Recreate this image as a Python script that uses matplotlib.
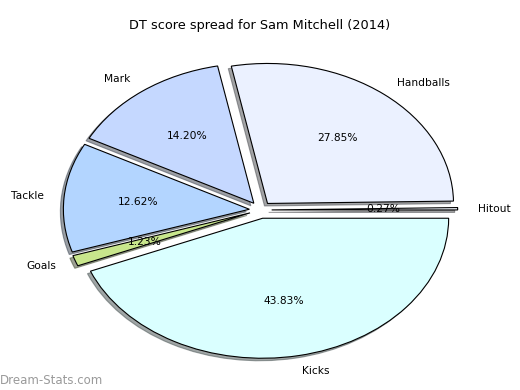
import matplotlib
matplotlib.use("Agg")
import matplotlib.pyplot as plt
from matplotlib.patches import Wedge
import numpy as np

# Data (counter-clockwise from 0 degrees)
categories = ["Hitout", "Handballs", "Mark", "Tackle", "Goals", "Kicks"]
values = [0.27, 27.85, 14.20, 12.62, 1.23, 43.83]
colors = ["#f4f8ff", "#ebf1ff", "#c5d8ff", "#b3d5ff", "#c8e68c", "#daffff"]
title = "DT score spread for Sam Mitchell (2014)"

W, H = 520, 390
fig = plt.figure(figsize=(W / 100, H / 100), dpi=100)
ax = fig.add_axes([0, 0, 1, 1])

wedges, texts, autotexts = ax.pie(
    values, labels=categories, colors=colors, autopct="%1.2f%%",
    explode=[0.06] * len(values), startangle=0, counterclock=True,
    wedgeprops={"edgecolor": "black", "linewidth": 0.8, "zorder": 2},
    textprops={"fontsize": 7.7, "color": "black", "zorder": 4},
    labeldistance=1.11, pctdistance=0.6,
)
ax.set_aspect("auto")
# pixel layout: centre and radii
cx, cy = 260.5, 390 - 210.0
rx, ry = 186.0, 140.0
ax.set_xlim(-cx / rx, (W - cx) / rx)
ax.set_ylim(-cy / ry, (H - cy) / ry)
ax.axis("off")

# manual drop shadows (offset left/down by a few pixels)
sdx, sdy = -3.0 / rx, -2.5 / ry
for w in wedges:
    fc = np.array(matplotlib.colors.to_rgb(w.get_facecolor()))
    sc = 0.3 * fc
    s = Wedge((w.center[0] + sdx, w.center[1] + sdy), w.r, w.theta1, w.theta2,
              facecolor=sc, edgecolor=sc, alpha=0.5, linewidth=0.8, zorder=1)
    ax.add_patch(s)

fig.text(0.5, 1 - 25 / H, title, ha="center", va="center", fontsize=9.3)
fig.text(0.0, 1 - 380 / H, "Dream-Stats.com", ha="left", va="center",
         fontsize=8.5, color="#9a9a9a")

fig.savefig("out.png", dpi=100)
